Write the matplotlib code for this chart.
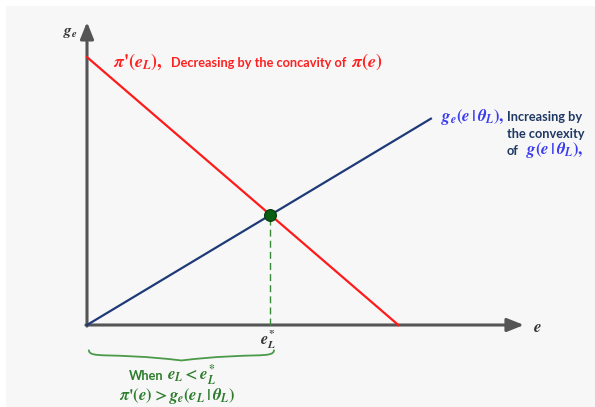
import matplotlib
matplotlib.use("Agg")
import matplotlib.pyplot as plt
import numpy as np
from matplotlib.path import Path
from matplotlib.patches import PathPatch, Rectangle

plt.rcParams['mathtext.fontset'] = 'custom'
plt.rcParams['mathtext.rm'] = 'STIXGeneral:bold'
plt.rcParams['mathtext.it'] = 'STIXGeneral:italic:bold'
plt.rcParams['mathtext.bf'] = 'STIXGeneral:italic:bold'

# Marginal profit pi'(e) (decreasing) and marginal cost g_e(e | theta_L) (increasing)
e_red = [0.0, 8.6]
pi_prime = [7.4, 0.0]
e_blue = [0.0, 9.5]
g_e = [0.0, 5.7]

# Axis extents
x_axis_end = 12.07
y_axis_end = 8.37

# Intersection e_L^*
s_red = (pi_prime[1] - pi_prime[0]) / (e_red[1] - e_red[0])
s_blue = (g_e[1] - g_e[0]) / (e_blue[1] - e_blue[0])
e_star = (pi_prime[0] - g_e[0]) / (s_blue - s_red)
y_star = g_e[0] + s_blue * e_star

W, H = 595, 407
scale = 36.2          # pixels per unit
ox, oy = 87, 325      # origin in pixel coords (from top-left)

fig = plt.figure(figsize=(W / 100, H / 100), dpi=100)
fig.patch.set_facecolor('white')
fig.add_artist(Rectangle((6 / W, 0), 1, 1 - 6 / H, transform=fig.transFigure,
                         facecolor='#f7f7f7', edgecolor='none', zorder=0))

ax = fig.add_axes([0, 0, 1, 1])
ax.set_xlim(-ox / scale, (W - ox) / scale)
ax.set_ylim(-(H - oy) / scale, oy / scale)
ax.axis('off')
ax.patch.set_alpha(0)


def P(px, py):
    return px / W, 1 - py / H


axis_col = '#555555'
arrow_kw = dict(arrowstyle='-|>,head_length=1.0,head_width=0.4', lw=2.2,
                color=axis_col, mutation_scale=10, shrinkA=0, shrinkB=0)
ax.annotate('', xy=(x_axis_end, 0), xytext=(-0.03, 0), arrowprops=arrow_kw, zorder=2)
ax.annotate('', xy=(0, y_axis_end), xytext=(0, -0.03), arrowprops=arrow_kw, zorder=2)

ax.plot(e_red, pi_prime, color='#ff1a1a', lw=1.6, zorder=3)
ax.plot(e_blue, g_e, color='#1f3a78', lw=1.6, zorder=3)
ax.plot([e_star, e_star], [0, y_star], color='#3a8a3a', lw=1.0,
        ls=(0, (5, 3)), zorder=2)
ax.plot([e_star], [y_star], 'o', ms=8.5, color='#0a6010', mec='#043a06',
        mew=0.8, zorder=5)

tf = fig.transFigure
red = '#ff2020'
blue = '#3b3bf0'
navy = '#1f3864'
green = '#2e7d2e'
sans = 'Lato'
serif = 'STIXGeneral'
fs_txt = 9.2

# Axis labels
fig.text(*P(70, 33), r'$g_e$', fontsize=11, color='#333333',
         ha='center', va='center', transform=tf)
fig.text(*P(537, 327), r'$e$', fontsize=12, color='#333333',
         ha='center', va='center', transform=tf)
fig.text(*P(268, 340), r'$e_L^{*}$', fontsize=11.5, color='#333333',
         ha='center', va='center', transform=tf)

# Red annotation
fig.text(*P(113, 62), r"$\pi$'$(e_L),$", fontsize=13, color=red,
         family=serif, fontweight='bold', ha='left', va='center', transform=tf)
fig.text(*P(171, 63), 'Decreasing by the concavity of', fontsize=fs_txt,
         color=red, fontweight='bold', family=sans, ha='left', va='center',
         transform=tf)
fig.text(*P(351, 62), r"$\pi(e)$", fontsize=13, color=red,
         ha='left', va='center', transform=tf)

# Blue annotation
fig.text(*P(441, 117), r"$g_e(e\,|\,\theta_L),$", fontsize=12, color=blue,
         ha='left', va='center', transform=tf)
fig.text(*P(507, 117), 'Increasing by', fontsize=fs_txt, color=navy,
         fontweight='bold', family=sans, ha='left', va='center', transform=tf)
fig.text(*P(507, 134), 'the convexity', fontsize=fs_txt, color=navy,
         fontweight='bold', family=sans, ha='left', va='center', transform=tf)
fig.text(*P(507, 151), 'of', fontsize=fs_txt, color=navy,
         fontweight='bold', family=sans, ha='left', va='center', transform=tf)
fig.text(*P(526, 150), r"$g(e\,|\,\theta_L),$", fontsize=12, color=blue,
         ha='left', va='center', transform=tf)


# Curly brace under the axis from 0 to e_L^*
def brace(x0, x1, y, depth):
    xm = (x0 + x1) / 2
    verts = [(x0, y), (x0, y - depth * 0.9), (xm - 2, y - depth * 0.2), (xm, y - depth),
             (xm + 2, y - depth * 0.2), (x1, y - depth * 0.9), (x1, y)]
    codes = [Path.MOVETO, Path.CURVE4, Path.CURVE4, Path.CURVE4,
             Path.CURVE4, Path.CURVE4, Path.CURVE4]
    return Path(verts, codes)


ax.add_patch(PathPatch(brace(0.05, e_star + 0.1, -0.68, 0.30), facecolor='none',
                       edgecolor='#4a9a4a', lw=1.3, zorder=3))

fig.text(*P(129, 376), 'When', fontsize=fs_txt, color=green, fontweight='bold',
         family=sans, ha='left', va='center', transform=tf)
fig.text(*P(167, 375), r"$e_L<e_L^{*}$", fontsize=12, color=green,
         ha='left', va='center', transform=tf)
fig.text(*P(177, 396), r"$\pi$'$(e)>g_e(e_L\,|\,\theta_L)$", fontsize=12,
         color=green, family=serif, fontweight='bold', ha='center',
         va='center', transform=tf)

fig.savefig('out.png', dpi=100, facecolor=fig.get_facecolor())
